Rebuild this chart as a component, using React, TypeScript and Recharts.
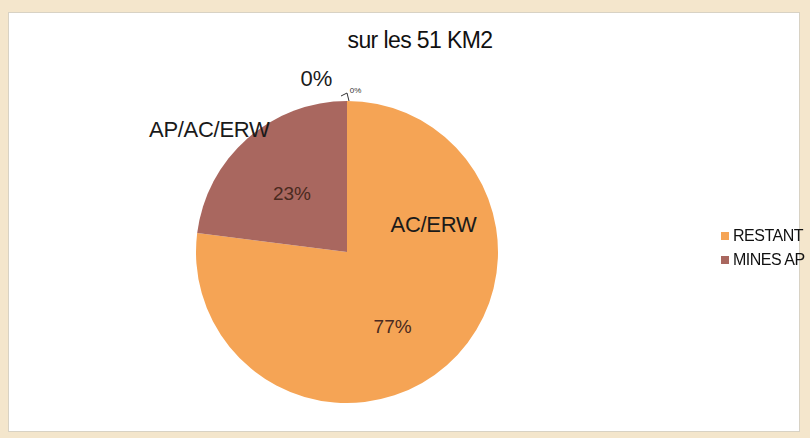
import { PieChart, Pie, Cell, Legend } from "recharts";

const categories = ["RESTANT", "MINES AP", ""];
const sliceNames = ["AC/ERW", "AP/AC/ERW", ""];
const values = [77, 23, 0];
const colors = ["#F5A455", "#A9675F", "#8A8A8A"];

const data = categories.map((c, i) => ({
  name: c,
  label: sliceNames[i],
  value: values[i],
  color: colors[i],
}));

// label placement per slice: angle offset from midAngle (deg) and radius fraction
const labelSpots = [
  { nameDa: 66, nameR: 0.6, pctDa: -10, pctR: 0.58 },
  { nameDa: 7, nameR: 1.22, pctDa: 2, pctR: 0.53 },
  { nameDa: 10, nameR: 1.17, pctDa: -1, pctR: 1.07 },
];

const RAD = Math.PI / 180;

function renderLabel(props: any) {
  const { cx, cy, midAngle, outerRadius, index, percent } = props;
  const spot = labelSpots[index];
  const pct = `${Math.round(percent * 100)}%`;
  const nx = cx + outerRadius * spot.nameR * Math.cos((midAngle + spot.nameDa) * RAD);
  const ny = cy - outerRadius * spot.nameR * Math.sin((midAngle + spot.nameDa) * RAD);
  const px = cx + outerRadius * spot.pctR * Math.cos((midAngle + spot.pctDa) * RAD);
  const py = cy - outerRadius * spot.pctR * Math.sin((midAngle + spot.pctDa) * RAD);
  if (index === 2) {
    const tx = cx + outerRadius * Math.cos(midAngle * RAD);
    const ty = cy - outerRadius * Math.sin(midAngle * RAD);
    return (
      <g>
        <text x={nx} y={ny} textAnchor="middle" dominantBaseline="central" fontSize={22} fill="#1a1a1a">
          {pct}
        </text>
        <path d={`M${tx + 2},${ty} L${tx},${ty - 8} L${tx - 6},${ty - 5}`} stroke="#333" fill="none" strokeWidth={1} />
        <text x={px} y={py} textAnchor="start" dominantBaseline="central" fontSize={8} fill="#333">
          {pct}
        </text>
      </g>
    );
  }
  return (
    <g>
      <text x={nx} y={ny} textAnchor="middle" dominantBaseline="central" fontSize={22} fill="#1a1a1a" letterSpacing={-0.3}>
        {data[index].label}
      </text>
      <text x={px} y={py} textAnchor="middle" dominantBaseline="central" fontSize={19} fill="#4a2a20">
        {pct}
      </text>
    </g>
  );
}

function renderLegend() {
  return (
    <div style={{ display: "flex", flexDirection: "column", gap: 6 }}>
      {data
        .filter((d) => d.name)
        .map((d) => (
          <div key={d.name} style={{ display: "flex", alignItems: "center", fontSize: 16, color: "#111", whiteSpace: "nowrap" }}>
            <span style={{ width: 8, height: 8, background: d.color, marginRight: 4, display: "inline-block" }} />
            <span style={{ letterSpacing: -0.5 }}>{d.name}</span>
          </div>
        ))}
    </div>
  );
}

export default function App() {
  return (
    <div
      style={{
        position: "fixed",
        left: 0,
        top: 0,
        width: 810,
        height: 438,
        background: "#F4E6CC",
        fontFamily: "'Liberation Sans', Arial, sans-serif",
      }}
    >
      <div
        style={{
          position: "absolute",
          left: 8,
          top: 12,
          width: 792,
          height: 420,
          background: "#FFFFFF",
          border: "1px solid #D8D2C4",
          boxSizing: "border-box",
        }}
      >
        <div
          style={{
            position: "absolute",
            top: 14,
            left: 0,
            width: 792,
            paddingLeft: 30,
            boxSizing: "border-box",
            textAlign: "center",
            fontSize: 23,
            color: "#111",
            letterSpacing: -0.6,
          }}
        >
          sur les 51 KM2
        </div>
        <PieChart width={790} height={418}>
          <Pie
            data={data}
            dataKey="value"
            nameKey="name"
            cx={333}
            cy={234}
            outerRadius={151}
            startAngle={90}
            endAngle={-270}
            stroke="none"
            label={renderLabel}
            labelLine={false}
            isAnimationActive={false}
          >
            {data.map((d, i) => (
              <Cell key={`cell-${i}`} fill={d.color} />
            ))}
          </Pie>
          <Legend
            layout="vertical"
            content={renderLegend}
            wrapperStyle={{ left: 712, top: 214, width: 100 }}
          />
        </PieChart>
      </div>
    </div>
  );
}
